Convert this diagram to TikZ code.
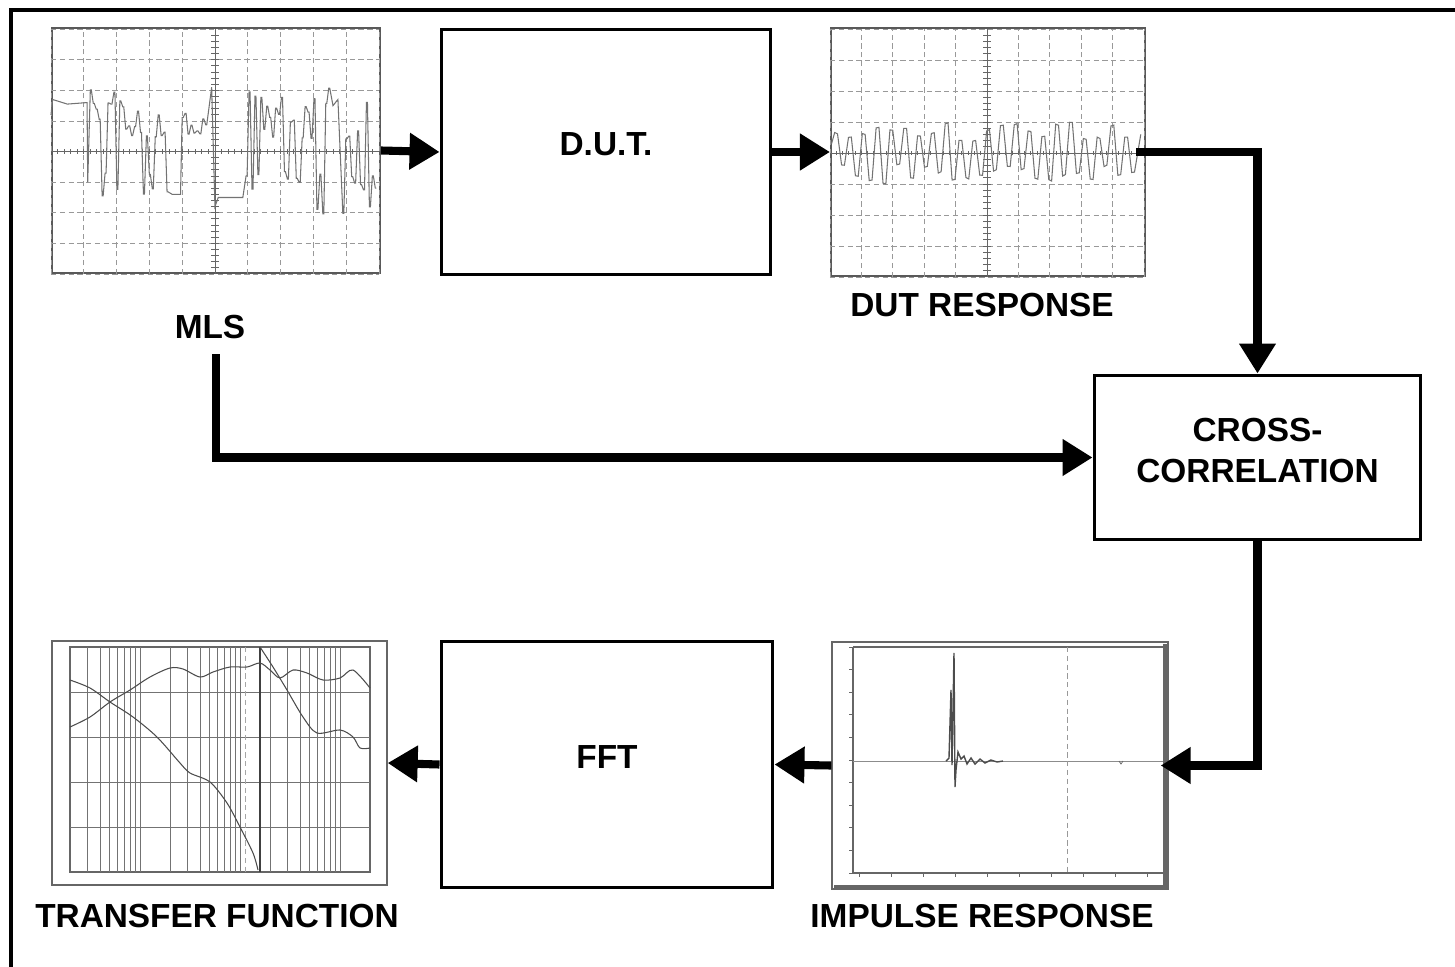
\documentclass[tikz,border=0pt]{standalone}
\usepackage{fontspec}
\setmainfont{Liberation Sans}
\usepackage{tikz}
\usetikzlibrary{arrows.meta, positioning, calc}

\newcommand{\lblfont}{\fontsize{19}{23.3}\selectfont\bfseries}

\begin{document}
\begin{tikzpicture}[
		x=0.02cm, y=-0.02cm,
		>={Triangle[length=0.6cm,width=0.7cm]},
		blk/.style={draw, line width=1.7pt, inner sep=0pt, align=center,
			text depth=0.3cm, font=\lblfont},
		scopebox/.style={draw=black!65, line width=1.2pt, inner sep=0pt},
		plotbox/.style={draw=black!60, line width=0.8pt, inner sep=0pt},
		caplbl/.style={font=\lblfont, inner sep=0.3cm},
		arr/.style={->, line width=4.6pt},
		grd/.style={black!40, densely dashed, line width=0.4pt},
		axs/.style={black!60, line width=0.5pt},
		wave/.style={black!55, line width=0.6pt},
		tgrd/.style={black!55, line width=0.4pt},
		crv/.style={black!70, line width=0.6pt},
	]
		\useasboundingbox (0,0) rectangle (1455,967);

		% frame
		\draw[line width=2pt] (11,967) |- (1455,10);

		% top row
		\node[scopebox, minimum width=6.56cm, minimum height=4.9cm] (mls) at (216,150.5) {};
		\node[blk, minimum width=6.6cm, minimum height=4.92cm] (dut) at (606,152) {D.U.T.};
		\node[scopebox, minimum width=6.28cm, minimum height=4.96cm] (resp) at (988,152) {};

		\node[caplbl] (mlslbl) at (210,327) {MLS};
		\node[caplbl] (resplbl) at (982,305) {DUT RESPONSE};

		% cross-correlation
		\node[blk, minimum width=6.54cm, minimum height=3.3cm] (cross) at (1257.5,457.5) {CROSS-\\CORRELATION};

		% bottom row
		\node[plotbox, minimum width=6.7cm, minimum height=4.88cm] (tf) at (219.5,763) {};
		\node[blk, minimum width=6.64cm, minimum height=4.94cm] (fft) at (607,764.5) {FFT};
		\node[plotbox, minimum width=6.72cm, minimum height=4.94cm] (imp) at (1000,765.5) {};

		\node[caplbl] (tflbl) at (217,916) {TRANSFER FUNCTION};
		\node[caplbl] (implbl) at (982,916) {IMPULSE RESPONSE};

		% MLS screen
		\begin{scope}[shift={(mls.south west)}, x=0.656cm, y=0.6125cm]
			\draw[grd] (0,0) grid[step=1] (10,8);
			\draw[axs] (5,0) -- (5,8) (0,4) -- (10,4);
			\foreach \t in {0.2,0.4,...,9.8} \draw[axs] (\t,3.93) -- (\t,4.07);
			\foreach \t in {0.2,0.4,...,7.8} \draw[axs] (4.88,\t) -- (5.12,\t);
			\pgfmathsetseed{11}
			\draw[wave] (0,5.2) -- (0.05,5.7) -- (0.5,5.55) -- (1.1,5.6) -- (1.12,3.0)
				\foreach \t [evaluate=\t as \v using {4+(2*(rand>0)-1)*(0.4+1.7*rnd)}] in {1.2,1.29,...,3.6} {-- (\t,\v) -- ({\t+0.03},\v)}
				-- (3.7,2.6) -- (3.95,2.6)
				\foreach \t [evaluate=\t as \v using {4+(2*(rand>0)-1)*(0.3+1.2*rnd)}] in {4.0,4.09,...,4.8} {-- (\t,\v) -- ({\t+0.03},\v)}
				-- (4.9,6.1) -- (5.0,2.2) -- (5.1,2.5) -- (5.85,2.5)
				\foreach \t [evaluate=\t as \v using {4+(2*(rand>0)-1)*(0.4+1.7*rnd)}] in {5.95,6.04,...,8.5} {-- (\t,\v) -- ({\t+0.03},\v)}
				-- (8.6,5.5) -- (8.75,5.7)
				\foreach \t [evaluate=\t as \v using {4+(2*(rand>0)-1)*(0.4+1.7*rnd)}] in {8.9,8.99,...,9.95} {-- (\t,\v) -- ({\t+0.03},\v)};
		\end{scope}

		% DUT response screen
		\begin{scope}[shift={(resp.south west)}, x=0.628cm, y=0.62cm]
			\draw[grd] (0,0) grid[step=1] (10,8);
			\draw[axs] (5,0) -- (5,8) (0,4) -- (10,4);
			\foreach \t in {0.2,0.4,...,9.8} \draw[axs] (\t,3.93) -- (\t,4.07);
			\foreach \t in {0.2,0.4,...,7.8} \draw[axs] (4.88,\t) -- (5.12,\t);
			\pgfmathsetseed{5}
			\draw[wave] (0.05,4.3)
				\foreach \t [count=\k, evaluate=\k as \v using {4+(2*mod(\k,2)-1)*(0.35+0.65*rnd)}] in {0.15,0.37,...,9.7}
					{-- (\t,\v) -- ({\t+0.09},{\v+0.05*rand})}
				-- (9.9,4.6);
		\end{scope}

		% transfer function plot
		\draw[black!60, line width=0.6pt] (70,647) rectangle (370,872);
		\foreach \d in {0,1,2}
			\foreach \m in {3,...,10}
				\draw[tgrd] ({70+100*(\d+ln(\m/2)/ln(10))},647) -- ++(0,225);
		\draw[tgrd] (170,647) -- ++(0,225) (270,647) -- ++(0,225);
		\foreach \k in {1,...,4} \draw[tgrd] (70,{647+45*\k}) -- (370,{647+45*\k});
		\draw[black!35, densely dashed] (245,647) -- (245,872);
		\draw[black!75, line width=1pt] (260,647) -- (260,872);
		\draw[crv] plot[smooth, tension=0.5] coordinates {(70,727) (90,717) (110,702) (130,690)
			(150,677) (170,668) (183,669) (200,677) (213,672) (230,667) (247,667) (260,663)
			(270,670) (280,678) (293,670) (307,673) (323,680) (340,678) (353,670) (370,688)};
		\draw[crv] plot[smooth, tension=0.5] coordinates {(70,680) (90,688) (110,702) (133,717)
			(157,737) (180,763) (190,773) (210,782) (227,803) (240,827) (253,853) (258,870)};
		\draw[crv] plot[smooth, tension=0.5] coordinates {(260,647) (273,667) (287,690) (303,717)
			(317,733) (340,730) (353,737) (360,748) (370,748)};

		% impulse response plot
		\draw[black!60, line width=3pt] (1165.5,644) -- (1165.5,887.5) -- (834,887.5);
		\draw[black!60, line width=0.6pt] (853,647) -- (1163,647) (853,647) -- (853,873) -- (1163,873);
		\foreach \k in {0,...,10} \draw[black!60] (849,{647+22.6*\k}) -- (853,{647+22.6*\k});
		\foreach \t in {859,891,...,1147} \draw[black!60] (\t,873) -- (\t,877);
		\draw[black!45, line width=0.5pt] (853,761) -- (1163,761);
		\draw[black!40, densely dashed] (1067,647) -- (1067,873);
		\draw[black!70, line width=0.8pt] (946,761) -- (949,758) -- (951,690) -- (952,765)
			-- (954,653) -- (955,787) -- (956,770) -- (958,752) -- (961,759) -- (964,756)
			-- (967,764) -- (971,758) -- (975,764) -- (980,759) -- (985,763) -- (991,760)
			-- (997,762) -- (1003,761);
		\draw[black!60] (1119,761) -- (1121,764) -- (1123,761);

		% connectors
		\draw[arr] (mls.east) -- (dut.west);
		\draw[arr] (dut.east) -- (resp.west);
		\draw[arr] ($(resp.east)+(-10,0)$) -| (cross.north);
		\draw[arr] (mls.south |- mlslbl.south) |- (cross.west);
		\draw[arr] (cross.south) |- ($(imp.east)+(-8,0)$);
		\draw[arr] (imp.west) -- (fft.east);
		\draw[arr] (fft.west) -- (tf.east);
	\end{tikzpicture}
\end{document}
